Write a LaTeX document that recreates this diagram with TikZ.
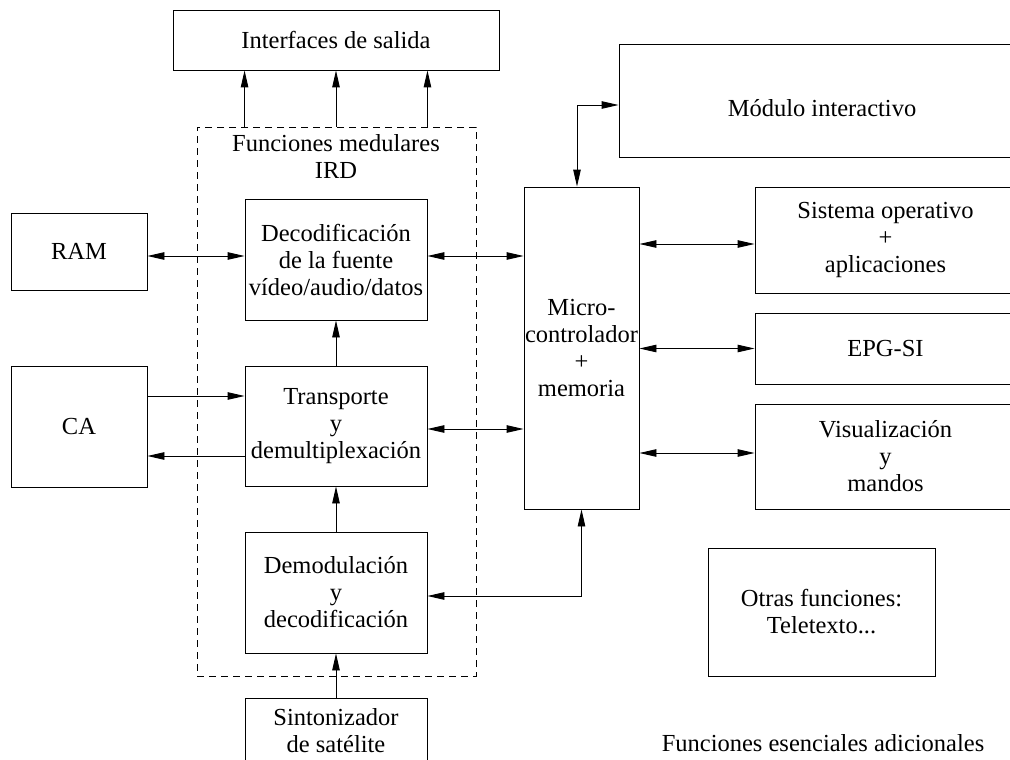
\documentclass[tikz,border=0pt]{standalone}
\usepackage{fontspec}
\setmainfont{Liberation Serif}
\usetikzlibrary{arrows.meta}

\begin{document}
\begin{tikzpicture}[x=1pt,y=-1pt,
  every node/.style={font=\fontsize{24.5}{27}\selectfont, inner sep=0pt, align=center},
  box/.style={draw, line width=0.9pt, rectangle},
  frame/.style={draw, line width=0.9pt, dash pattern=on 7pt off 5pt},
  link/.style={line width=0.9pt, -{Triangle[length=17pt,width=7.5pt]}},
  blink/.style={line width=0.9pt, {Triangle[length=17pt,width=7.5pt]}-{Triangle[length=17pt,width=7.5pt]}}]

\useasboundingbox (0,0) rectangle (1010,760);
\clip (0,0) rectangle (1010,760);

% IRD core functions (dashed frame)
\node[frame, minimum width=279pt, minimum height=549pt] (ird) at (336.5,401.5) {};
\node (irdlabel) at (336,157) {Funciones medulares\\IRD};

% blocks
\node[box, minimum width=326pt, minimum height=60pt] (out) at (336,40) {Interfaces de salida};
\node[box, minimum width=182pt, minimum height=121pt] (dec) at (336,259.5) {Decodificación\\de la fuente\\vídeo/audio/datos};
\node[box, minimum width=136pt, minimum height=77pt] (ram) at (79,251.5) {RAM};
\node[box, minimum width=136pt, minimum height=121pt] (ca) at (79,426.5) {CA};
\node[box, minimum width=182pt, minimum height=120pt] (tr) at (336,426) {Transporte\\y\\demultiplexación};
\node[box, minimum width=182pt, minimum height=121pt] (dm) at (336,592.5) {Demodulación\\y\\decodificación};
\node[box, anchor=north, minimum width=182pt, inner ysep=10pt, text depth=80pt] (sin) at (336,698) {Sintonizador\\de satélite};
\node[box, minimum width=115pt, minimum height=322pt] (micro) at (581.5,348) {Micro-\\controlador\\+\\memoria};
\node[box, minimum width=406pt, minimum height=113pt, text height=32pt, text depth=0pt] (mod) at (822,100.5) {Módulo interactivo};
\node[box, minimum width=261pt, minimum height=106pt] (so) at (885.5,240) {Sistema operativo\\+\\aplicaciones};
\node[box, minimum width=261pt, minimum height=71pt] (epg) at (885.5,348.5) {EPG-SI};
\node[box, minimum width=261pt, minimum height=105pt] (vis) at (885.5,456.5) {Visualización\\y\\mandos};
\node[box, minimum width=227pt, minimum height=128pt] (otras) at (821.5,612) {Otras funciones:\\Teletexto...};
\node (caption) at (823,743) {Funciones esenciales adicionales};

% connector heights
\coordinate (yram) at (0,256);
\coordinate (yso) at (0,244);
\coordinate (ycain) at (0,396);
\coordinate (ycaout) at (0,456);
\coordinate (ytr) at (0,429);
\coordinate (yvis) at (0,453);

% outputs
\draw[link] (dec.north west |- ird.north) -- (dec.north west |- out.south);
\draw[link] (dec.north |- ird.north) -- (dec.north |- out.south);
\draw[link] (dec.north east |- ird.north) -- (dec.north east |- out.south);

% core chain
\draw[link] (sin.north) -- (dm.south);
\draw[link] (dm.north) -- (tr.south);
\draw[link] (tr.north) -- (dec.south);

% left side
\draw[blink] (ram.east |- yram) -- (dec.west |- yram);
\draw[link] (ca.east |- ycain) -- (tr.west |- ycain);
\draw[link] (tr.west |- ycaout) -- (ca.east |- ycaout);

% microcontroller links
\draw[blink] (dec.east |- yram) -- (micro.west |- yram);
\draw[blink] (tr.east |- ytr) -- (micro.west |- ytr);
\draw[blink] (micro.south) |- ([yshift=-3.5pt]dm.east);
\draw[blink] ([xshift=-4.5pt]micro.north) |- ([yshift=-4.5pt]mod.west);
\draw[blink] (micro.east |- yso) -- (so.west |- yso);
\draw[blink] (micro.east |- epg.west) -- (epg.west);
\draw[blink] (micro.east |- yvis) -- (vis.west |- yvis);

\end{tikzpicture}
\end{document}
